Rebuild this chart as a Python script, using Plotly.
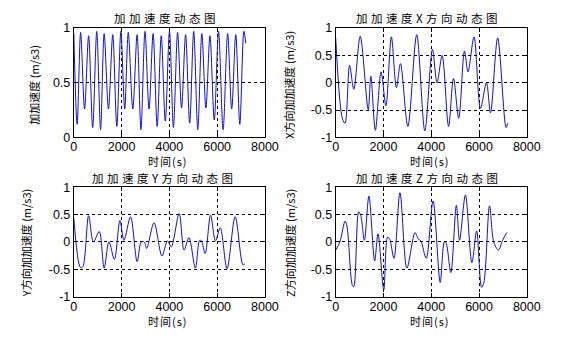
import plotly.graph_objects as go

W, H = 567, 340

# ---- data ----
# Top-left: jerk magnitude
t_mag = [0, 140, 285, 450, 620, 790, 960, 1120, 1270, 1450, 1630, 1800, 1970, 2130, 2280, 2470,
         2650, 2810, 2980, 3150, 3320, 3490, 3660, 3830, 4005, 4170, 4345, 4510, 4680, 4850,
         5020, 5190, 5360, 5530, 5700, 5880, 6060, 6250, 6440, 6610, 6780, 6950, 7120, 7200]
v_mag = [0.95, 0.12, 0.96, 0.26, 0.93, 0.09, 0.97, 0.07, 0.95, 0.26, 0.94, 0.10, 0.97, 0.26,
         0.96, 0.26, 0.94, 0.07, 0.97, 0.26, 0.95, 0.10, 0.93, 0.15, 0.97, 0.09, 0.96, 0.27,
         0.94, 0.13, 0.97, 0.07, 0.95, 0.27, 0.93, 0.16, 0.97, 0.07, 0.95, 0.26, 0.94, 0.12,
         0.97, 0.86]

# Top-right: X direction
t_x = [0, 280, 390, 580, 756, 1026, 1360, 1470, 1660, 1900, 2100, 2330, 2540, 2710, 3020, 3390,
       3730, 4050, 4240, 4455, 4725, 4930, 5150, 5390, 5540, 5790, 6060, 6310, 6480, 6780, 7130, 7200]
v_x = [0.82, -0.66, -0.74, 0.32, -0.12, 0.85, -0.49, 0.12, -0.87, 0.20, -0.42, 0.84, -0.09, 0.35,
       -0.80, 0.88, -0.88, 0.61, 0.00, 0.50, -0.80, 0.08, -0.65, 0.58, 0.20, 0.84, -0.47, 0.00,
       -0.55, 0.82, -0.82, -0.74]

# Bottom-left: Y direction
t_y = [0, 280, 380, 620, 820, 1065, 1270, 1470, 1700, 1930, 2100, 2375, 2650, 2820, 2950, 3050,
       3360, 3690, 3920, 4080, 4410, 4615, 4820, 5090, 5265, 5340, 5500, 5725, 5930, 6130, 6415,
       6755, 7080, 7160]
v_y = [0.44, -0.47, -0.45, 0.48, 0.00, 0.19, -0.48, 0.00, -0.32, 0.39, 0.03, 0.46, -0.36, 0.00,
       0.00, -0.12, 0.35, -0.26, 0.02, -0.09, 0.52, -0.15, 0.08, -0.48, 0.03, 0.02, -0.21, 0.49,
       0.02, 0.26, -0.49, 0.46, -0.42, -0.40]

# Bottom-right: Z direction
t_z = [0, 175, 390, 470, 700, 756, 960, 1050, 1200, 1390, 1630, 1770, 2010, 2170, 2260, 2440,
       2690, 2980, 3320, 3460, 3560, 3790, 4075, 4375, 4550, 4620, 4820, 5050, 5185, 5430, 5700,
       5900, 6105, 6200, 6440, 6615, 6810, 6985, 7160]
v_z = [-0.15, 0.00, 0.38, 0.29, -0.80, -0.82, 0.55, 0.48, 0.03, 0.84, -0.35, 0.15, -0.88, 0.09,
       0.05, -0.30, 0.90, -0.48, 0.17, 0.05, 0.02, -0.30, 0.75, -0.74, 0.00, -0.02, -0.56, 0.67,
       0.03, 0.86, -0.38, 0.20, -0.83, -0.75, 0.66, 0.00, -0.15, 0.03, 0.17]

x_ticks = [0, 2000, 4000, 6000, 8000]
y_ticks_mag = [0, 0.5, 1]
y_ticks_dir = [-1, -0.5, 0, 0.5, 1]

titles = ["加加速度动态图", "加加速度X方向动态图", "加加速度Y方向动态图", "加加速度Z方向动态图"]
ylabels = ["加加速度 (m/s3)", "X方向加加速度 (m/s3)", "Y方向加加速度 (m/s3)", "Z方向加加速度 (m/s3)"]
xlabel = "时间(s)"

# ---- layout geometry (pixels) ----
boxes = [(73, 270, 22, 136), (343, 540, 22, 136), (73, 270, 188, 302), (343, 540, 188, 302)]
series = [(t_mag, v_mag), (t_x, v_x), (t_y, v_y), (t_z, v_z)]
yranges = [[0, 1], [-1, 1], [-1, 1], [-1, 1]]
yticks = [y_ticks_mag, y_ticks_dir, y_ticks_dir, y_ticks_dir]
title_pos = [(169, 11), (439, 11), (167, 178), (439, 178)]
xlabel_pos = [(170, 161), (440, 161), (170, 328), (440, 328)]
ylabel_pos = [(32, 81), (295, 81), (24, 246), (296, 246)]

fig = go.Figure()
CJK = "Noto Sans CJK SC"
NUM = "Liberation Sans"

layout = dict(
    width=W, height=H, margin=dict(l=0, r=0, t=0, b=0),
    paper_bgcolor="white", plot_bgcolor="white", showlegend=False,
    annotations=[],
)

for i, ((x0, x1, y0, y1), (tt, vv)) in enumerate(zip(boxes, series)):
    xa = "x" if i == 0 else f"x{i+1}"
    ya = "y" if i == 0 else f"y{i+1}"
    fig.add_trace(go.Scatter(x=tt, y=vv, mode="lines", xaxis=xa, yaxis=ya,
                             line=dict(color="#1010d0", width=1, shape="spline", smoothing=0.9),
                             hoverinfo="skip"))
    common = dict(showline=True, linecolor="black", linewidth=1, mirror="ticks",
                  ticks="inside", ticklen=4, tickcolor="black", tickwidth=1,
                  showgrid=True, gridcolor="black", gridwidth=1, griddash="3px,3px",
                  zeroline=False, tickfont=dict(family=NUM, size=12.5, color="black"))
    layout["xaxis" if i == 0 else f"xaxis{i+1}"] = dict(
        domain=[x0 / W, x1 / W], anchor=ya, range=[0, 8000], ticklabelstandoff=-2,
        tickvals=x_ticks, ticktext=[str(v) for v in x_ticks], **common)
    layout["yaxis" if i == 0 else f"yaxis{i+1}"] = dict(
        domain=[1 - y1 / H, 1 - y0 / H], anchor=xa, range=yranges[i],
        tickvals=yticks[i], ticktext=[("%g" % v) for v in yticks[i]], **common)

    tx, ty = title_pos[i]
    layout["annotations"].append(dict(
        x=tx / W, y=1 - ty / H, xref="paper", yref="paper", xanchor="center", yanchor="middle",
        showarrow=False, text=f'<span style="letter-spacing:3.5px">{titles[i]}</span>',
        font=dict(family=CJK, size=11.5, color="black")))
    lx, ly = xlabel_pos[i]
    layout["annotations"].append(dict(
        x=lx / W, y=1 - ly / H, xref="paper", yref="paper", xanchor="center", yanchor="middle",
        showarrow=False, text=f'<span style="letter-spacing:1px">{xlabel}</span>',
        font=dict(family=CJK, size=11, color="black")))
    px, py = ylabel_pos[i]
    layout["annotations"].append(dict(
        x=px / W, y=1 - py / H, xref="paper", yref="paper", xanchor="center", yanchor="middle",
        showarrow=False, text=ylabels[i], textangle=-90,
        font=dict(family=CJK, size=11, color="black")))

fig.update_layout(**layout)
fig.write_html("out.html")
